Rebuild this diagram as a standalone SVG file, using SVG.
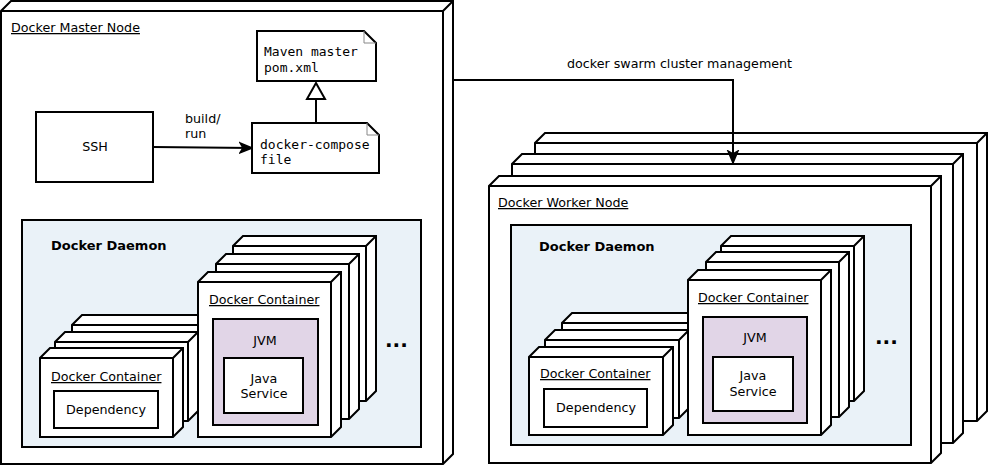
<svg xmlns="http://www.w3.org/2000/svg" width="988" height="465" viewBox="0 0 988 465">
<style>
.cube{fill:#fff;stroke:#000;stroke-width:2;stroke-linejoin:miter}
.box{fill:#fff;stroke:#000;stroke-width:2}
.daemon{fill:#eaf2f8;stroke:#000;stroke-width:2}
.jvm{fill:#e1d5e7;stroke:#000;stroke-width:2}
.fold{fill:none;stroke:#888;stroke-width:1}
.t{font-family:"DejaVu Sans","Liberation Sans",sans-serif;font-size:12.7px;fill:#000}
.u{text-decoration:underline}
.b{font-weight:bold;font-size:13px}
.c{text-anchor:middle}
.m{font-family:"DejaVu Sans Mono","Liberation Mono",monospace;font-size:13px;fill:#000}
.dots{font-family:"DejaVu Sans",sans-serif;font-weight:bold;font-size:20px;fill:#000}
.ln{fill:none;stroke:#000;stroke-width:2}
</style>
<defs>
<marker id="arr" viewBox="0 0 14 14" refX="13" refY="7" markerWidth="14" markerHeight="14" orient="auto" markerUnits="userSpaceOnUse">
<path d="M1,2 L13,7 L1,12 L4,7 Z" fill="#000" stroke="#000" stroke-width="1.5" stroke-linejoin="miter"/>
</marker>
</defs>

<g id="master-node">
<path class="cube" d="M1,464 V11 L11,1 H453 V454 L443,464 Z M1,11 H443 V464 M443,11 L453,1"/>
<text class="t u" x="11" y="32">Docker Master Node</text>
</g>

<g id="maven-pom">
<path class="box" d="M257,31 H364 L376,43 V81 H257 Z"/>
<path class="fold" d="M364,31 V43 H376"/>
<text class="m" x="264" y="56">Maven master</text>
<text class="m" x="264" y="72">pom.xml</text>
</g>

<g id="docker-compose">
<path class="box" d="M252,123 H367 L379,135 V173 H252 Z"/>
<path class="fold" d="M367,123 V135 H379"/>
<text class="m" x="260" y="149">docker-compose</text>
<text class="m" x="260" y="164">file</text>
</g>

<g id="ssh">
<rect class="box" x="36" y="112" width="117" height="70"/>
<text class="t c" x="95" y="151">SSH</text>
</g>

<g id="master-daemon">
<rect class="daemon" x="22" y="220" width="399" height="227"/>
<text class="t b" x="51" y="250">Docker Daemon</text>
</g>

<g id="master-dep-container">
<path class="cube" d="M72,404 V325 L82,315 H215 V394 L205,404 Z M72,325 H205 V404 M205,325 L215,315"/>
<path class="cube" d="M55,421 V342 L65,332 H198 V411 L188,421 Z M55,342 H188 V421 M188,342 L198,332"/>
<path class="cube" d="M40,437 V358 L50,348 H183 V427 L173,437 Z M40,358 H173 V437 M173,358 L183,348"/>
<text class="t u" x="51" y="381">Docker Container</text>
<rect class="box" x="54" y="391" width="104" height="37"/>
<text class="t c" x="106" y="414">Dependency</text>
</g>

<g id="master-jvm-container">
<path class="cube" d="M233,401 V246 L243,236 H376 V391 L366,401 Z M233,246 H366 V401 M366,246 L376,236"/>
<path class="cube" d="M216,419 V264 L226,254 H359 V409 L349,419 Z M216,264 H349 V419 M349,264 L359,254"/>
<path class="cube" d="M198,437 V282 L208,272 H341 V427 L331,437 Z M198,282 H331 V437 M331,282 L341,272"/>
<text class="t u" x="209" y="304">Docker Container</text>
<rect class="jvm" x="213" y="319" width="105" height="106"/>
<text class="t c" x="265" y="345">JVM</text>
<rect class="box" x="224" y="358" width="79" height="55"/>
<text class="t c" x="264" y="383">Java</text>
<text class="t c" x="264" y="398">Service</text>
</g>

<g id="master-more">
<text class="dots" x="385" y="347">...</text>
</g>

<g id="worker-node-3">
<path class="cube" d="M535,421 V143 L545,133 H987 V411 L977,421 Z M535,143 H977 V421 M977,143 L987,133"/>
</g>
<g id="worker-node-2">
<path class="cube" d="M512,443 V164 L522,154 H963 V433 L953,443 Z M512,164 H953 V443 M953,164 L963,154"/>
</g>
<g id="worker-node">
<path class="cube" d="M489,463 V186 L499,176 H941 V453 L931,463 Z M489,186 H931 V463 M931,186 L941,176"/>
<text class="t u" x="498" y="207">Docker Worker Node</text>
</g>

<g id="worker-daemon">
<rect class="daemon" x="511" y="225" width="400" height="220"/>
<text class="t b" x="539" y="251">Docker Daemon</text>
</g>

<g id="worker-dep-container">
<path class="cube" d="M562,401 V323 L572,313 H706 V391 L696,401 Z M562,323 H696 V401 M696,323 L706,313"/>
<path class="cube" d="M545,418 V340 L555,330 H689 V408 L679,418 Z M545,340 H679 V418 M679,340 L689,330"/>
<path class="cube" d="M529,435 V357 L539,347 H673 V425 L663,435 Z M529,357 H663 V435 M663,357 L673,347"/>
<text class="t u" x="540" y="378">Docker Container</text>
<rect class="box" x="544" y="389" width="103" height="38"/>
<text class="t c" x="596" y="412">Dependency</text>
</g>

<g id="worker-jvm-container">
<path class="cube" d="M721,401 V246 L731,236 H864 V391 L854,401 Z M721,246 H854 V401 M854,246 L864,236"/>
<path class="cube" d="M706,417 V262 L716,252 H849 V407 L839,417 Z M706,262 H839 V417 M839,262 L849,252"/>
<path class="cube" d="M688,435 V280 L698,270 H831 V425 L821,435 Z M688,280 H821 V435 M821,280 L831,270"/>
<text class="t u" x="698" y="302">Docker Container</text>
<rect class="jvm" x="703" y="317" width="104" height="106"/>
<text class="t c" x="755" y="342">JVM</text>
<rect class="box" x="713" y="357" width="80" height="54"/>
<text class="t c" x="753" y="380">Java</text>
<text class="t c" x="753" y="396">Service</text>
</g>

<g id="worker-more">
<text class="dots" x="875" y="344">...</text>
</g>

<g id="connectors">
<path class="ln" d="M153,147 L252,148" marker-end="url(#arr)"/>
<text class="t" x="185" y="123">build/</text>
<text class="t" x="185" y="138">run</text>
<path class="ln" d="M316,123 V99"/>
<path d="M316,83 L325,99 H307 Z" fill="#fff" stroke="#000" stroke-width="2"/>
<path class="ln" d="M453,80 H733 V163" marker-end="url(#arr)"/>
<text class="t" x="567" y="68">docker swarm cluster management</text>
</g>
</svg>
